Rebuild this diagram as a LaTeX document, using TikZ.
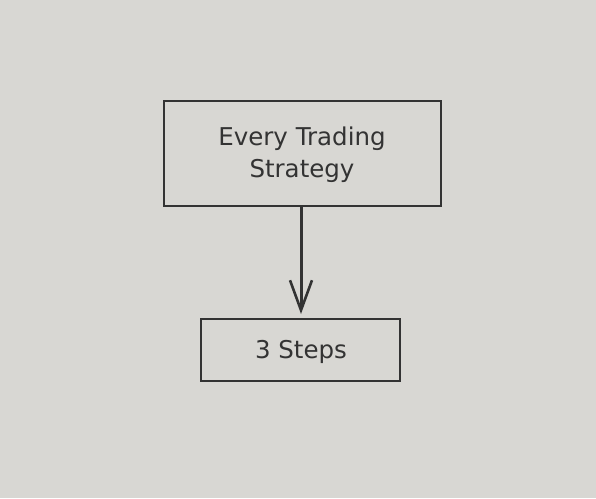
\documentclass[tikz,border=0pt]{standalone}
\usepackage{fontspec}
\setmainfont{DejaVu Sans}
\usetikzlibrary{arrows.meta}
\definecolor{bg}{HTML}{D8D7D3}
\definecolor{ink}{HTML}{333333}
\begin{document}
\begin{tikzpicture}[x=1pt,y=-1pt,
  box/.style={draw=ink,line width=2.6pt,inner sep=0pt},
  lbl/.style={text=ink,font=\fontsize{24.5}{32}\selectfont,align=center},
  conn/.style={draw=ink,line width=3pt,-{Straight Barb[length=30pt,width=22pt,line width=2.6pt]}}]
\fill[bg] (0,0) rectangle (596,498);
\useasboundingbox (0,0) rectangle (596,498);
\draw[box] (164,101) rectangle (441,206);
\node[lbl] (top) at (302,155) {Every Trading\\Strategy};
\coordinate (ta) at (301,207);
\draw[box] (201,319) rectangle (400,381);
\node[lbl] (bot) at (301,352) {3 Steps};
\coordinate (ba) at (301,314);
\draw[conn] (ta) -- (ba);
\end{tikzpicture}
\end{document}
